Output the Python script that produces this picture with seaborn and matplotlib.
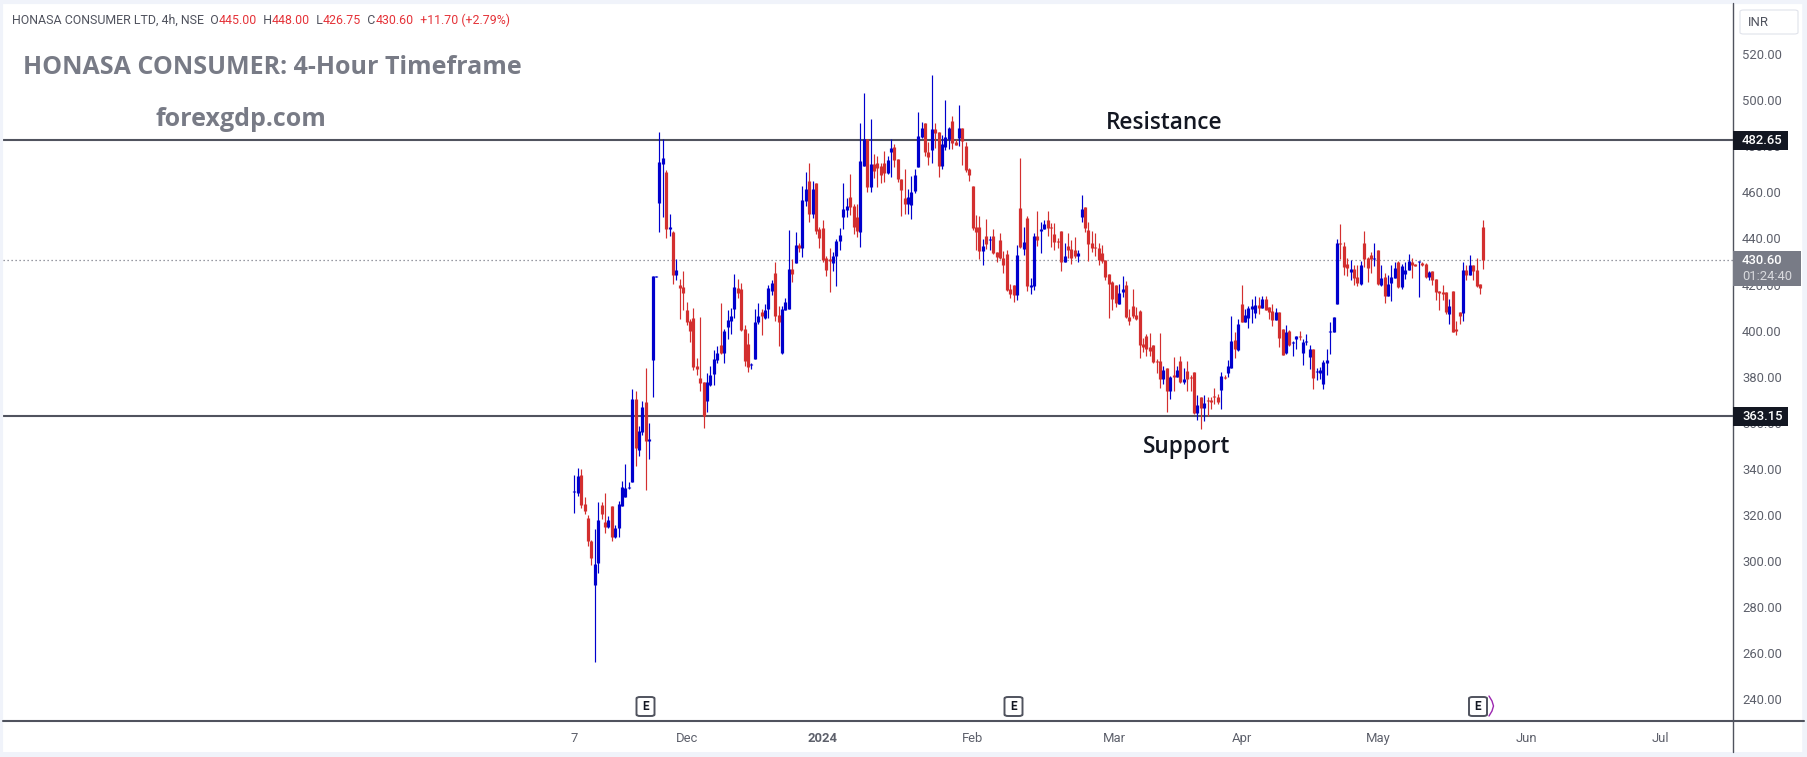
import numpy as np
import pandas as pd
import seaborn as sns
import matplotlib
matplotlib.use("Agg")
import matplotlib.pyplot as plt
from matplotlib.lines import Line2D
from matplotlib.patches import FancyBboxPatch

# candles (one value per 4h bar)
opens = [
    329.8,329.7,337.3,324.8,318.7,308.7,289.8,299.3,324.3,317.0,
    314.9,323.9,310.4,314.5,323.9,327.8,331.8,334.5,370.3,348.3,
    356.1,369.0,352.2,387.4,423.4,455.5,472.3,468.8,444.0,442.8,
    424.1,419.8,418.9,408.9,404.1,405.5,384.6,379.4,377.7,369.5,
    376.4,381.2,387.2,393.7,390.3,401.5,404.1,409.4,418.5,418.0,
    400.7,394.2,385.0,387.7,403.7,408.0,405.5,409.4,417.2,425.0,
    406.8,390.3,408.9,409.4,426.7,429.3,437.1,435.8,456.2,464.9,
    450.6,464.0,444.0,444.5,431.5,431.0,429.3,432.4,438.9,449.3,
    452.3,457.9,454.0,449.3,442.8,471.4,483.1,462.3,472.3,472.7,
    471.4,472.7,468.4,477.5,479.7,474.5,465.8,457.5,454.9,454.5,
    460.6,471.0,484.0,490.1,477.5,478.4,487.5,486.2,471.4,479.7,
    483.1,491.0,481.8,483.6,487.9,480.1,470.1,462.7,444.9,444.9,
    434.5,441.1,439.2,441.1,434.1,439.3,431.5,433.2,418.0,419.8,
    415.4,453.2,435.4,448.9,418.9,419.4,441.1,443.2,444.1,448.0,
    445.0,441.9,438.8,443.2,429.8,436.7,435.4,435.0,432.4,449.3,
    453.6,443.7,438.0,436.3,435.8,433.7,430.6,424.6,421.0,419.8,
    411.5,416.8,419.8,405.9,410.7,406.8,408.5,394.2,397.7,392.9,
    393.7,386.8,386.8,379.0,383.8,373.8,380.7,379.9,386.8,377.7,
    382.5,379.9,382.0,364.2,371.2,366.4,369.8,369.9,371.6,371.2,
    374.2,380.0,381.6,383.8,396.0,391.6,411.5,403.7,405.5,409.3,
    407.6,411.1,409.8,413.7,410.2,408.5,404.6,408.0,400.7,390.3,
    399.8,394.8,396.3,397.7,390.3,394.9,388.5,392.0,381.9,381.6,
    376.8,385.9,399.6,399.4,411.5,438.0,436.7,428.9,425.4,426.7,
    423.3,420.2,438.0,431.5,432.8,430.9,435.0,419.8,423.3,415.0,
    420.7,422.8,429.8,418.9,424.5,426.3,429.8,428.9,429.6,429.3,
    428.9,423.3,425.9,422.4,417.2,416.7,416.7,407.2,417.2,400.7,
    408.0,407.6,426.3,424.1,428.5,426.3,420.2,445.0,
]
closes = [
    330.2,336.9,324.5,321.9,308.9,301.5,298.7,317.8,320.6,314.9,
    317.8,310.6,314.3,324.8,332.1,331.7,332.2,370.3,349.2,356.4,
    366.8,352.2,352.9,423.6,423.8,473.1,474.9,444.0,444.9,424.1,
    426.3,418.5,416.3,403.6,399.8,384.2,383.3,377.3,362.9,377.7,
    380.7,387.7,390.3,390.3,399.8,404.6,406.3,418.9,416.3,400.3,
    386.8,384.2,385.4,403.7,406.3,406.3,408.9,418.5,420.6,406.3,
    403.7,409.4,412.4,426.7,424.5,437.1,435.8,456.6,461.4,450.6,
    461.4,443.2,440.2,430.6,426.3,430.2,432.4,438.9,441.5,452.8,
    454.0,453.6,444.9,443.2,473.6,483.1,462.3,472.3,469.2,470.5,
    467.5,468.4,474.0,479.2,474.0,465.8,461.0,454.9,458.0,460.0,
    467.5,484.4,487.9,477.5,475.3,487.5,485.7,471.4,481.0,484.0,
    487.9,481.4,480.5,487.9,482.3,469.7,467.5,444.5,442.8,434.5,
    436.7,437.6,439.6,433.7,431.9,431.5,428.5,417.6,415.9,415.4,
    432.8,436.3,438.4,419.4,419.8,441.1,439.3,444.1,446.3,444.5,
    444.6,438.4,438.4,429.8,432.4,435.0,431.5,432.4,433.7,452.8,
    444.5,437.6,435.8,435.9,430.6,430.2,423.3,420.2,413.7,412.0,
    416.3,418.1,405.9,404.2,406.3,405.0,393.8,392.9,392.0,391.1,
    386.4,386.4,379.0,382.9,373.8,379.9,379.9,382.9,377.7,379.0,
    379.0,379.5,364.2,367.7,366.4,368.6,369.4,369.0,371.2,369.0,
    380.3,379.6,384.6,395.5,392.0,402.9,403.7,406.8,409.8,410.7,
    411.1,409.8,413.7,408.9,408.0,404.6,408.0,396.8,389.4,399.4,
    393.8,395.2,397.7,397.3,395.0,395.3,392.0,379.4,382.3,382.9,
    386.4,387.2,400.0,405.9,438.0,437.6,427.6,427.2,426.7,422.8,
    420.7,428.5,431.0,427.2,431.0,431.3,420.2,422.8,415.0,420.2,
    423.3,427.2,418.9,428.0,426.3,430.2,428.5,428.0,430.0,428.5,
    423.3,425.4,422.0,416.7,416.3,415.9,408.0,410.7,399.4,399.8,
    406.3,426.3,424.1,428.5,425.9,419.3,418.5,430.6,
]
highs = [
    337.3,340.4,339.8,327.7,320.0,309.1,313.8,325.5,325.5,329.4,
    319.4,323.9,315.5,326.0,334.7,342.1,334.3,374.6,373.8,358.6,
    369.5,383.6,359.7,423.6,423.8,486.2,483.0,469.7,450.4,443.2,
    430.9,422.2,425.7,412.4,405.0,409.6,388.1,405.9,377.7,381.6,
    384.6,391.6,393.3,412.0,400.7,408.9,409.6,424.5,422.4,420.6,
    402.4,398.9,385.9,409.4,412.0,409.4,411.5,419.8,421.9,429.8,
    410.6,410.6,414.1,443.6,431.0,442.8,438.0,462.7,468.8,472.7,
    464.9,464.0,444.9,448.0,432.4,435.8,434.1,439.7,444.5,464.0,
    457.5,467.9,454.9,454.9,489.9,503.1,483.1,491.7,476.6,475.7,
    472.7,477.9,475.7,483.1,481.0,474.5,465.8,470.1,461.4,467.1,
    470.1,494.8,490.5,490.1,481.8,510.9,490.1,486.2,484.9,500.0,
    488.3,493.1,483.1,497.9,487.9,481.8,470.5,462.7,450.2,449.7,
    439.7,448.4,441.1,444.0,434.1,442.3,434.5,435.0,420.2,419.8,
    437.1,474.9,445.0,449.7,422.8,442.3,451.9,447.1,448.0,451.9,
    446.7,446.7,440.2,443.2,438.0,442.3,439.3,440.6,435.0,458.8,
    453.6,447.1,443.0,442.3,438.0,437.1,430.6,424.6,421.5,419.8,
    420.2,423.7,421.5,409.4,418.0,410.2,408.9,396.8,398.5,399.0,
    393.7,387.7,399.0,384.6,383.8,380.3,388.6,384.6,389.0,383.8,
    386.8,380.7,382.0,372.0,371.2,372.0,371.2,371.2,375.1,372.5,
    382.0,380.7,387.2,406.3,399.4,405.0,419.8,409.4,410.7,413.7,
    415.0,414.6,415.0,415.0,410.2,411.5,409.8,408.0,400.7,402.4,
    400.3,395.5,397.7,399.8,396.3,398.5,393.8,392.0,383.8,384.2,
    387.2,392.0,403.7,405.9,439.7,446.3,438.4,431.5,430.6,428.5,
    428.5,430.2,443.2,431.9,434.1,438.0,435.0,428.5,425.0,424.1,
    428.5,429.8,430.2,428.9,429.8,433.2,431.5,428.9,430.0,429.8,
    429.3,425.9,425.9,422.4,417.2,419.8,416.7,413.7,417.2,404.2,
    408.0,429.8,428.5,432.8,428.5,431.5,420.2,448.0,
]
lows = [
    321.0,328.2,323.2,320.6,306.7,298.4,256.4,295.0,318.4,312.3,
    314.5,308.9,310.0,310.6,323.9,327.8,331.3,334.5,341.4,345.7,
    354.7,331.0,344.3,371.3,423.3,442.8,449.4,440.3,441.2,420.4,
    421.9,405.0,408.9,402.4,395.2,382.9,380.7,373.8,357.7,364.7,
    376.1,376.4,385.9,389.8,385.9,396.3,398.5,405.5,414.1,399.8,
    384.6,382.0,383.3,387.7,402.9,398.1,405.0,405.5,415.3,404.1,
    393.3,389.8,408.9,409.4,421.0,429.3,434.1,431.9,454.0,447.1,
    448.8,441.9,435.8,429.8,423.7,416.7,425.9,419.3,434.9,444.0,
    449.3,450.1,441.9,440.6,436.4,471.4,460.1,460.1,466.2,462.3,
    464.0,464.5,468.0,466.6,471.0,464.5,449.7,450.6,450.6,448.4,
    459.7,471.0,483.6,475.7,471.9,472.7,479.2,466.6,470.1,478.4,
    478.8,478.8,480.5,480.1,471.9,468.8,464.9,443.6,435.0,431.1,
    428.5,435.4,435.0,433.2,429.8,431.1,425.0,417.2,414.1,412.4,
    413.3,435.8,432.8,417.2,415.9,417.6,436.7,433.7,444.0,441.1,
    436.3,435.0,435.8,425.9,429.8,431.5,428.9,431.5,429.8,447.1,
    442.8,430.2,434.1,432.4,428.5,429.3,422.0,405.5,409.0,410.2,
    411.5,414.6,405.5,402.4,405.5,404.6,388.1,390.7,389.0,389.0,
    385.9,381.6,375.1,376.8,364.7,370.3,373.8,379.9,377.3,376.8,
    373.8,373.8,363.8,361.2,357.3,360.8,363.0,366.0,368.2,368.2,
    366.0,379.0,379.9,383.8,388.1,391.1,403.7,403.7,401.1,403.3,
    405.5,407.2,409.8,408.9,405.0,402.0,404.6,392.9,389.4,389.8,
    393.3,389.0,392.0,395.9,385.1,393.8,383.3,374.7,378.6,379.0,
    374.7,380.7,389.9,399.4,411.5,431.0,424.1,423.7,422.0,419.8,
    419.3,419.8,427.6,421.1,425.0,428.0,419.8,419.3,412.0,415.0,
    412.8,422.8,418.5,418.0,422.4,426.3,422.8,428.0,414.6,428.0,
    422.8,422.0,419.8,413.3,409.0,413.3,407.2,402.9,399.4,398.1,
    402.9,404.2,422.0,424.1,422.0,418.9,415.9,426.75,
]

price_ticks = [520, 500, 480, 460, 440, 420, 400, 380, 360, 340, 320, 300, 280, 260, 240]
month_bars = [0, 33, 73, 117, 158.5, 196, 236, 279.5, 319]
month_labels = ["7", "Dec", "2024", "Feb", "Mar", "Apr", "May", "Jun", "Jul"]
resistance = 482.65
support = 363.15
last_price = 430.60

W, H = 1808, 757
BLUE = "#0000cd"
RED = "#d32f2f"
DARK = "#50535e"
GREY = "#787b86"
FONT = "Roboto"


def fx(px):
    return px / W


def fy(py):
    return 1 - py / H


sns.set_theme(style="white")
plt.rcParams["font.family"] = [FONT, "DejaVu Sans"]

n = len(opens)
bars = np.arange(n)
direction = np.where(np.array(closes) >= np.array(opens), "up", "down")
palette = {"up": BLUE, "down": RED}

# long form, two rows per candle so each one is its own line
wicks = pd.DataFrame({
    "bar": np.repeat(bars, 2),
    "price": np.column_stack([lows, highs]).ravel(),
    "dir": np.repeat(direction, 2),
})
bodies = pd.DataFrame({
    "bar": np.repeat(bars, 2),
    "price": np.column_stack([opens, closes]).ravel(),
    "dir": np.repeat(direction, 2),
})

fig = plt.figure(figsize=(W / 100, H / 100), dpi=100, facecolor="white")
ax = fig.add_axes([fx(3), fy(721), fx(1733) - fx(3), fy(3) - fy(721)])

ax.axhline(last_price, color=GREY, lw=0.9, ls=(0, (1, 2.2)), zorder=1)
ax.axhline(resistance, color=DARK, lw=1.5, zorder=1)
ax.axhline(support, color=DARK, lw=1.5, zorder=1)

sns.lineplot(data=wicks, x="bar", y="price", hue="dir", units="bar", estimator=None,
             palette=palette, linewidth=0.85, legend=False, ax=ax,
             solid_capstyle="butt", zorder=3)
sns.lineplot(data=bodies, x="bar", y="price", hue="dir", units="bar", estimator=None,
             palette=palette, linewidth=2.3, legend=False, ax=ax,
             solid_capstyle="butt", zorder=4)

ax.set_xlim((3 - 574.3) / 3.405, (1733 - 574.3) / 3.405)
ax.set_ylim(520 - (721 - 54) / 2.305, 520 + (54 - 3) / 2.305)
ax.set_xlabel("")
ax.set_ylabel("")
for s in ax.spines.values():
    s.set_visible(False)

ax.yaxis.tick_right()
ax.set_yticks(price_ticks)
ax.set_yticklabels([f"{p:.2f}" for p in price_ticks], color="#5d606b", fontsize=9.4, ha="left")
ax.tick_params(axis="y", length=0, pad=6.5)
ax.set_xticks(month_bars)
ax.set_xticklabels(month_labels, color="#5d606b", fontsize=9.4)
ax.tick_params(axis="x", length=0, pad=8)
for lab in ax.get_xticklabels():
    if lab.get_text() == "2024":
        lab.set_fontweight("bold")

# chart frame
for xs, ys, col, lw in [
    ([1.5, 1806.5], [1.5, 1.5], "#f0f3fa", 3),
    ([1.5, 1806.5], [754.5, 754.5], "#f0f3fa", 5),
    ([1.5, 1.5], [1.5, 755], "#f0f3fa", 3),
    ([1805.5, 1805.5], [1.5, 755], "#f0f3fa", 4),
    ([3, 1804], [721, 721], DARK, 1.5),
    ([1733, 1733], [3, 752], DARK, 1.0),
]:
    fig.add_artist(Line2D([fx(x) for x in xs], [fy(y) for y in ys], color=col, lw=lw,
                          transform=fig.transFigure, zorder=5))


def label_box(x0, y0, x1, y1, col):
    fig.add_artist(FancyBboxPatch((fx(x0), fy(y1)), fx(x1 - x0), y1 / H - y0 / H,
                                  boxstyle="square,pad=0", fc=col, ec="none",
                                  transform=fig.transFigure, zorder=6))


label_box(1733, 131, 1788, 150, "#131722")
label_box(1733, 407, 1788, 426, "#131722")
label_box(1733, 251, 1801, 286, GREY)
fig.text(fx(1742), fy(141), "482.65", color="white", fontsize=9.4, fontweight="medium", va="center", zorder=7)
fig.text(fx(1742), fy(417), "363.15", color="white", fontsize=9.4, fontweight="medium", va="center", zorder=7)
fig.text(fx(1742), fy(261), "430.60", color="white", fontsize=9.4, fontweight="medium", va="center", zorder=7)
fig.text(fx(1742), fy(277), "01:24:40", color="#d8d9dd", fontsize=9.4, va="center", zorder=7)

# currency button
fig.add_artist(FancyBboxPatch((fx(1740), fy(34)), fx(58), 24 / H,
                              boxstyle="round,pad=0,rounding_size=0.002", fc="white", ec="#e0e3eb",
                              lw=0.8, transform=fig.transFigure, zorder=6))
fig.text(fx(1748), fy(22), "INR", color="#50535e", fontsize=9.4, va="center", zorder=7)

# header line, pieced together left to right
x_pos = 12
for txt, col in [("HONASA CONSUMER LTD, 4h, NSE  O", "#50535e"), ("445.00", "#e5343a"),
                 ("  H", "#50535e"), ("448.00", "#e5343a"), ("  L", "#50535e"),
                 ("426.75", "#e5343a"), ("  C", "#50535e"), ("430.60", "#e5343a"),
                 ("  +11.70 (+2.79%)", "#e5343a")]:
    t = fig.text(fx(x_pos), fy(20), txt, color=col, fontsize=8.95, va="center", zorder=7)
    x_pos = t.get_window_extent(fig.canvas.get_renderer()).x1

fig.text(fx(23), fy(68), "HONASA CONSUMER: 4-Hour Timeframe", color=GREY, fontsize=18,
         fontweight="bold", family="Open Sans", va="center", zorder=7)
fig.text(fx(156), fy(119), "forexgdp.com", color=GREY, fontsize=18,
         fontweight="bold", family="Open Sans", va="center", zorder=7)
fig.text(fx(1106), fy(123), "Resistance", color="#131722", fontsize=16.3,
         family="Open Sans", fontweight="semibold", va="center", zorder=7)
fig.text(fx(1143), fy(447), "Support", color="#131722", fontsize=16.3,
         family="Open Sans", fontweight="semibold", va="center", zorder=7)

# earnings markers
for cx in [645.5, 1013.5, 1478]:
    fig.add_artist(FancyBboxPatch((fx(cx - 9), fy(716)), fx(18), 19 / H,
                                  boxstyle="round,pad=0,rounding_size=0.002", fc="white", ec=DARK,
                                  lw=1.4, transform=fig.transFigure, zorder=6))
    fig.text(fx(cx), fy(706.5), "E", color="#131722", fontsize=8.5, fontweight="bold",
             ha="center", va="center", zorder=7)
fig.add_artist(Line2D([fx(1489), fx(1492), fx(1493.5), fx(1492), fx(1489)],
                      [fy(696), fy(701), fy(706), fy(711), fy(716)], color="#9c27b0", lw=1.0,
                      transform=fig.transFigure, zorder=6))

fig.savefig("out.png", dpi=100, facecolor="white")
